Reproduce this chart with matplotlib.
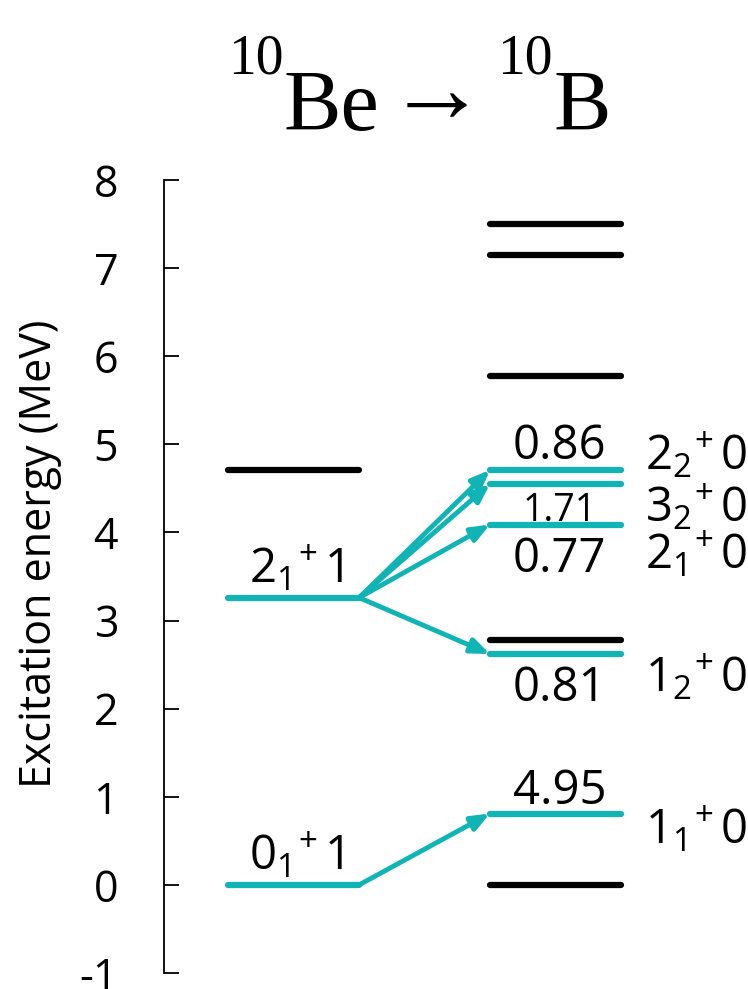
import numpy as np
import matplotlib
matplotlib.use('Agg')
import matplotlib.pyplot as plt

# levels of 10Be (initial) and 10B (final), MeV
be_energy = [0.0, 3.26, 4.71]
be_state  = ['0_1', '2_1', None]
be_tail   = ['1', '1', None]

b_energy_other = [0.0, 2.78, 5.77, 7.15, 7.50]
b_energy_fed   = [0.81, 2.62, 4.09, 4.55, 4.71]
b_state        = ['1_1', '1_2', '2_1', '3_2', '2_2']
b_parent       = [0.0, 3.26, 3.26, 3.26, 3.26]
bgt_value      = ['4.95', '0.81', '0.77', '1.71', '0.86']

yticks = list(range(-1, 9))

cyan  = '#10B4B4'
black = '#000000'

plt.rcParams['font.family'] = ['Open Sans', 'DejaVu Sans']
plt.rcParams['mathtext.fontset'] = 'custom'
plt.rcParams['mathtext.rm'] = 'Open Sans'
plt.rcParams['mathtext.it'] = 'Open Sans'
plt.rcParams['mathtext.bf'] = 'Open Sans'


def state_label(jn, t):
    # J_n, then +, then isospin
    return '$\\mathrm{%s{}^{\\!+}%s}$' % (jn, t)


fig = plt.figure(figsize=(7.48, 9.89), dpi=100)
ax = fig.add_axes([164/748, 16/989, 584/748, 793/989])
ax.set_xlim(0.51, 4.97)
ax.set_ylim(-1, 8)

for s in ['top', 'right', 'bottom']:
    ax.spines[s].set_visible(False)
ax.spines['left'].set_linewidth(1.3)
ax.set_xticks([])
ax.set_yticks(yticks)
ax.set_yticklabels([str(t) for t in yticks])
ax.tick_params(axis='y', direction='in', length=11, width=1.3, pad=33, labelsize=31)

lw = 4.5
fs = 34
# initial levels
for e, st, t in zip(be_energy, be_state, be_tail):
    c = cyan if st else black
    ax.plot([1, 2], [e, e], color=c, lw=lw, solid_capstyle='round', zorder=3)
    if st:
        ax.annotate(state_label(st, t), (1.52, e), xytext=(0, 11),
                    textcoords='offset points', ha='center', va='baseline', fontsize=fs)

# final levels
for e in b_energy_other:
    ax.plot([3, 4], [e, e], color=black, lw=lw, solid_capstyle='round', zorder=3)

bgt_off  = [7, -34, -34, -27, 8]
bgt_size = [fs, fs, fs, 27, fs]
st_off   = [-22, -27, -32, -27, 0]
for i, e in enumerate(b_energy_fed):
    ax.plot([3, 4], [e, e], color=cyan, lw=lw, solid_capstyle='round', zorder=3)
    ax.annotate('', xy=(3.0, e), xytext=(2.0, b_parent[i]),
                arrowprops=dict(arrowstyle='-|>,head_length=0.55,head_width=0.22',
                                mutation_scale=20, color=cyan, lw=3.5,
                                shrinkA=0, shrinkB=0), zorder=2)
    ax.annotate(bgt_value[i], (3.53, e), xytext=(0, bgt_off[i]), textcoords='offset points',
                ha='center', va='baseline', fontsize=bgt_size[i])
    ax.annotate(state_label(b_state[i], '0'), (4.18, e), xytext=(0, st_off[i]),
                textcoords='offset points', ha='left', va='baseline', fontsize=fs,
                annotation_clip=False)

fig.text(40/748, 1 - 554/989, 'Excitation energy (MeV)', rotation=90,
         ha='center', va='center', fontsize=31)

# title, pieces placed by hand so the mass numbers sit high like the original
serif = ['Liberation Serif', 'DejaVu Serif']
title_parts = [('10', 228, 74, 40, 'left'), ('Be', 284, 130, 62, 'left'),
               ('\u2192', 437, 122, 72, 'center'), ('10', 497, 74, 40, 'left'),
               ('B', 553, 130, 62, 'left')]
for txt, px, py, size, ha in title_parts:
    fig.text(px/748, 1 - py/989, txt, family=serif, fontsize=size, ha=ha, va='baseline')

fig.savefig('out.png', dpi=100)
